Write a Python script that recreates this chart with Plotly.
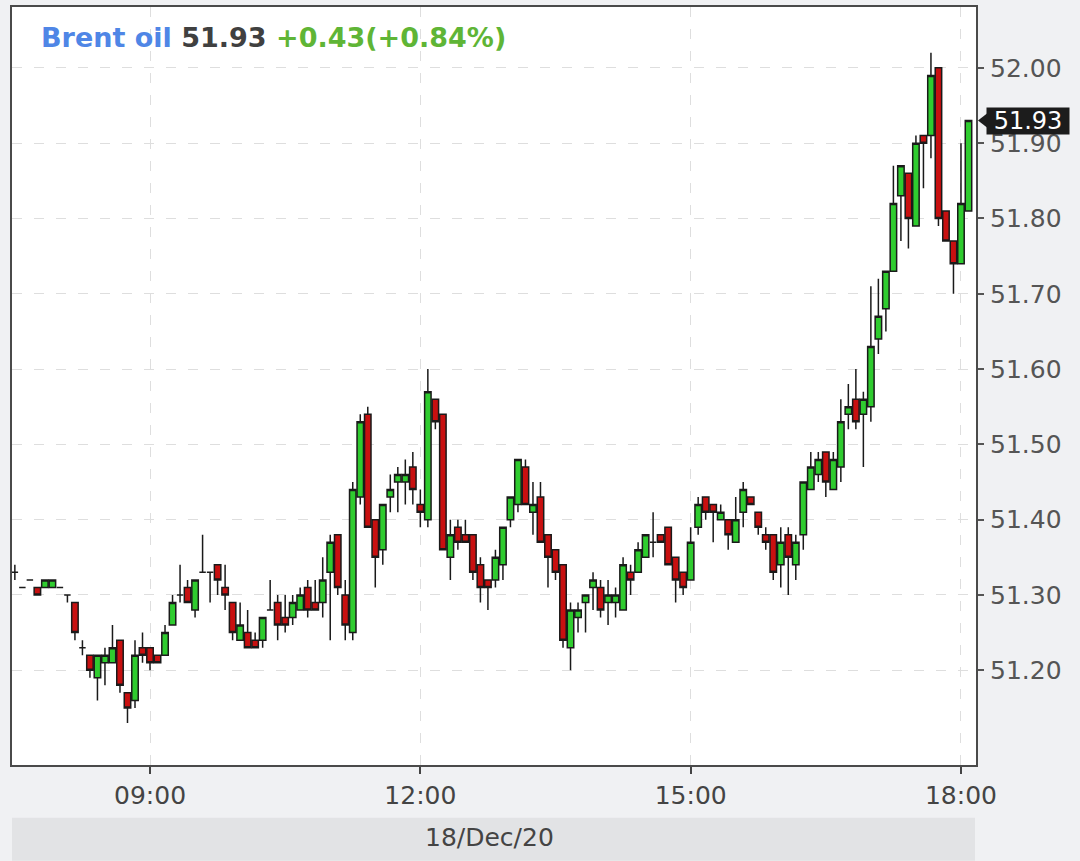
import plotly.graph_objects as go
import pandas as pd

# ---- data (5-minute candles, 18 Dec 2020) ----
start_time = "2020-12-18 07:30"
opens = [51.33, 51.31, 51.32, 51.31, 51.31, 51.31, 51.31, 51.30, 51.29, 51.23,
         51.22, 51.19, 51.21, 51.21, 51.24, 51.17, 51.16, 51.23, 51.23, 51.22,
         51.22, 51.26, 51.30, 51.31, 51.28, 51.33, 51.33, 51.34, 51.31, 51.29,
         51.24, 51.25, 51.24, 51.24, 51.28, 51.29, 51.27, 51.27, 51.28, 51.31,
         51.29, 51.29, 51.33, 51.38, 51.30, 51.25, 51.43, 51.54, 51.40, 51.36,
         51.43, 51.45, 51.45, 51.47, 51.42, 51.40, 51.56, 51.54, 51.35, 51.39,
         51.38, 51.38, 51.34, 51.32, 51.32, 51.34, 51.40, 51.42, 51.47, 51.41,
         51.43, 51.38, 51.36, 51.34, 51.23, 51.27, 51.29, 51.31, 51.31, 51.29,
         51.29, 51.28, 51.33, 51.33, 51.35, 51.37, 51.38, 51.39, 51.35, 51.33,
         51.32, 51.39, 51.43, 51.42, 51.40, 51.40, 51.37, 51.41, 51.43, 51.41,
         51.38, 51.38, 51.34, 51.38, 51.34, 51.38, 51.44, 51.46, 51.49, 51.44,
         51.47, 51.54, 51.56, 51.54, 51.55, 51.64, 51.68, 51.73, 51.83, 51.86,
         51.79, 51.91, 51.91, 52.00, 51.81, 51.77, 51.74, 51.81]
highs = [51.34, 51.31, 51.32, 51.31, 51.32, 51.32, 51.31, 51.30, 51.29, 51.24,
         51.22, 51.22, 51.23, 51.26, 51.24, 51.17, 51.24, 51.25, 51.23, 51.22,
         51.26, 51.30, 51.34, 51.32, 51.32, 51.38, 51.33, 51.34, 51.34, 51.29,
         51.29, 51.28, 51.25, 51.27, 51.32, 51.30, 51.30, 51.30, 51.31, 51.32,
         51.32, 51.35, 51.38, 51.38, 51.32, 51.45, 51.54, 51.55, 51.40, 51.42,
         51.46, 51.47, 51.48, 51.49, 51.44, 51.60, 51.56, 51.54, 51.40, 51.40,
         51.40, 51.38, 51.35, 51.32, 51.36, 51.39, 51.43, 51.48, 51.48, 51.45,
         51.45, 51.38, 51.36, 51.34, 51.29, 51.29, 51.30, 51.33, 51.32, 51.32,
         51.31, 51.35, 51.34, 51.37, 51.38, 51.41, 51.38, 51.39, 51.35, 51.33,
         51.39, 51.43, 51.43, 51.42, 51.42, 51.40, 51.43, 51.45, 51.43, 51.41,
         51.39, 51.38, 51.39, 51.39, 51.38, 51.45, 51.49, 51.49, 51.49, 51.49,
         51.56, 51.58, 51.60, 51.57, 51.71, 51.72, 51.73, 51.87, 51.87, 51.86,
         51.91, 51.91, 52.02, 52.00, 51.81, 51.77, 51.90, 51.93]
lows = [51.32, 51.31, 51.32, 51.30, 51.31, 51.31, 51.31, 51.29, 51.24, 51.22,
        51.19, 51.16, 51.18, 51.21, 51.17, 51.13, 51.15, 51.21, 51.20, 51.21,
        51.22, 51.26, 51.29, 51.29, 51.27, 51.33, 51.29, 51.30, 51.28, 51.24,
        51.24, 51.23, 51.23, 51.23, 51.28, 51.24, 51.25, 51.26, 51.28, 51.27,
        51.28, 51.27, 51.24, 51.30, 51.24, 51.24, 51.42, 51.39, 51.31, 51.34,
        51.41, 51.41, 51.42, 51.42, 51.39, 51.39, 51.52, 51.36, 51.32, 51.36,
        51.37, 51.32, 51.29, 51.28, 51.31, 51.32, 51.39, 51.41, 51.42, 51.38,
        51.37, 51.31, 51.32, 51.23, 51.20, 51.25, 51.25, 51.28, 51.27, 51.26,
        51.27, 51.28, 51.30, 51.33, 51.35, 51.35, 51.37, 51.34, 51.29, 51.30,
        51.32, 51.38, 51.40, 51.37, 51.40, 51.36, 51.37, 51.39, 51.42, 51.38,
        51.36, 51.32, 51.31, 51.30, 51.32, 51.36, 51.44, 51.45, 51.43, 51.44,
        51.45, 51.52, 51.52, 51.47, 51.53, 51.62, 51.65, 51.73, 51.77, 51.76,
        51.79, 51.84, 51.88, 51.79, 51.77, 51.70, 51.74, 51.81]
closes = [51.33, 51.31, 51.32, 51.30, 51.32, 51.32, 51.31, 51.30, 51.25, 51.23,
          51.20, 51.22, 51.22, 51.23, 51.18, 51.15, 51.22, 51.22, 51.21, 51.21,
          51.25, 51.29, 51.30, 51.29, 51.32, 51.33, 51.33, 51.32, 51.30, 51.25,
          51.26, 51.23, 51.23, 51.27, 51.28, 51.26, 51.26, 51.29, 51.30, 51.28,
          51.28, 51.32, 51.37, 51.31, 51.26, 51.44, 51.53, 51.39, 51.35, 51.42,
          51.44, 51.46, 51.46, 51.44, 51.41, 51.57, 51.53, 51.36, 51.38, 51.37,
          51.37, 51.33, 51.31, 51.31, 51.35, 51.39, 51.43, 51.48, 51.42, 51.42,
          51.37, 51.35, 51.33, 51.24, 51.28, 51.28, 51.30, 51.32, 51.28, 51.30,
          51.30, 51.34, 51.32, 51.36, 51.38, 51.37, 51.37, 51.34, 51.32, 51.31,
          51.37, 51.42, 51.41, 51.41, 51.41, 51.38, 51.40, 51.44, 51.42, 51.39,
          51.37, 51.33, 51.37, 51.35, 51.37, 51.45, 51.47, 51.48, 51.45, 51.48,
          51.53, 51.55, 51.53, 51.56, 51.63, 51.67, 51.73, 51.82, 51.87, 51.80,
          51.90, 51.90, 51.99, 51.80, 51.77, 51.74, 51.82, 51.93]

instrument = "Brent oil"
change = 0.43
change_pct = 0.84
date_label = "18/Dec/20"
x_tick_times = ["2020-12-18 09:00", "2020-12-18 12:00", "2020-12-18 15:00", "2020-12-18 18:00"]
x_tick_labels = ["09:00", "12:00", "15:00", "18:00"]
y_tick_vals = [51.2, 51.3, 51.4, 51.5, 51.6, 51.7, 51.8, 51.9, 52.0]
y_tick_labels = ["%.2f" % v for v in y_tick_vals]

times = pd.date_range(start_time, periods=len(opens), freq="5min")

# ---- figure ----
W, H = 1080, 861
L, R, T, B = 12, 104, 5, 96
FONT = "DejaVu Sans"
GREEN = "#2fcc2f"
RED = "#c81010"
EDGE = "#1a1a1a"

fig = go.Figure()
fig.add_trace(go.Candlestick(
    x=times, open=opens, high=highs, low=lows, close=closes,
    increasing=dict(fillcolor=GREEN, line=dict(color=EDGE, width=1.5)),
    decreasing=dict(fillcolor=RED, line=dict(color=EDGE, width=1.5)),
    whiskerwidth=0, showlegend=False, hoverinfo="skip",
))

grid_kw = dict(showgrid=True, gridcolor="#dedede", gridwidth=1, griddash="10px,12px")

fig.update_layout(
    width=W, height=H,
    margin=dict(l=L, r=R, t=T, b=B, pad=0),
    paper_bgcolor="#f0f1f3",
    plot_bgcolor="#ffffff",
    font=dict(family=FONT, color="#444444"),
    boxgap=0.14, boxgroupgap=0,
    showlegend=False,
    xaxis=dict(
        type="date",
        range=["2020-12-18 07:28:06", "2020-12-18 18:10:00"],
        tickvals=x_tick_times, ticktext=x_tick_labels,
        ticks="outside", ticklen=7, tickwidth=1.5, tickcolor="#444444",
        showline=True, linecolor="#4a4a4a", linewidth=2, mirror=True,
        tickfont=dict(size=25, color="#444444", family=FONT),
        ticklabelstandoff=0,
        rangeslider=dict(visible=False),
        zeroline=False,
        **grid_kw,
    ),
    yaxis=dict(
        side="right",
        range=[51.0742, 52.0808],
        tickvals=y_tick_vals, ticktext=y_tick_labels,
        ticks="outside", ticklen=6, tickwidth=1.5, tickcolor="#555555",
        showline=True, linecolor="#4a4a4a", linewidth=2, mirror=True,
        tickfont=dict(size=25, color="#555555", family=FONT),
        ticklabelstandoff=1,
        zeroline=False,
        **grid_kw,
    ),
)

plot_w = W - L - R
plot_h = H - T - B


def px_x(px):
    return (px - L) / plot_w


def px_y(py):
    return (H - B - py) / plot_h


last = closes[-1]

# header legend text
header = (
    "<b><span style='color:#4f86e6'>%s</span> "
    "<span style='color:#404040'>%.2f</span> "
    "<span style='color:#5fb536'>%+.2f(%+.2f%%)</span></b>"
    % (instrument, last, change, change_pct)
)
fig.add_annotation(
    text=header, xref="paper", yref="paper",
    x=px_x(39), y=px_y(36), xanchor="left", yanchor="middle",
    showarrow=False, font=dict(family=FONT, size=27),
)

# date bar
fig.add_shape(
    type="rect", xref="paper", yref="paper",
    x0=0, x1=px_x(975), y0=px_y(861), y1=px_y(818),
    fillcolor="#e2e3e5", line=dict(width=0), layer="below",
)
fig.add_annotation(
    text=date_label, xref="paper", yref="paper",
    x=px_x(489), y=px_y(838), xanchor="center", yanchor="middle",
    showarrow=False, font=dict(family=FONT, size=25, color="#444444"),
)

# last price tag
d = 7 / (plot_h / (52.0808 - 51.0742))
fig.add_shape(
    type="path", xref="paper", yref="y",
    path="M %f,%f L %f,%f L %f,%f Z" % (px_x(987), last + d, px_x(978), last, px_x(987), last - d),
    fillcolor="#1c1c1c", line=dict(width=0), layer="above",
)
fig.add_annotation(
    text="%.2f" % last, xref="paper", yref="y",
    x=px_x(986), y=last, xanchor="left", yanchor="middle",
    showarrow=False, bgcolor="#1c1c1c", borderpad=1,
    width=80, height=24, align="center",
    font=dict(family=FONT, size=24, color="#ffffff"),
)

fig.write_html(
    "out.html",
    config={"displayModeBar": False},
    post_script="document.body.style.margin='0';",
)
